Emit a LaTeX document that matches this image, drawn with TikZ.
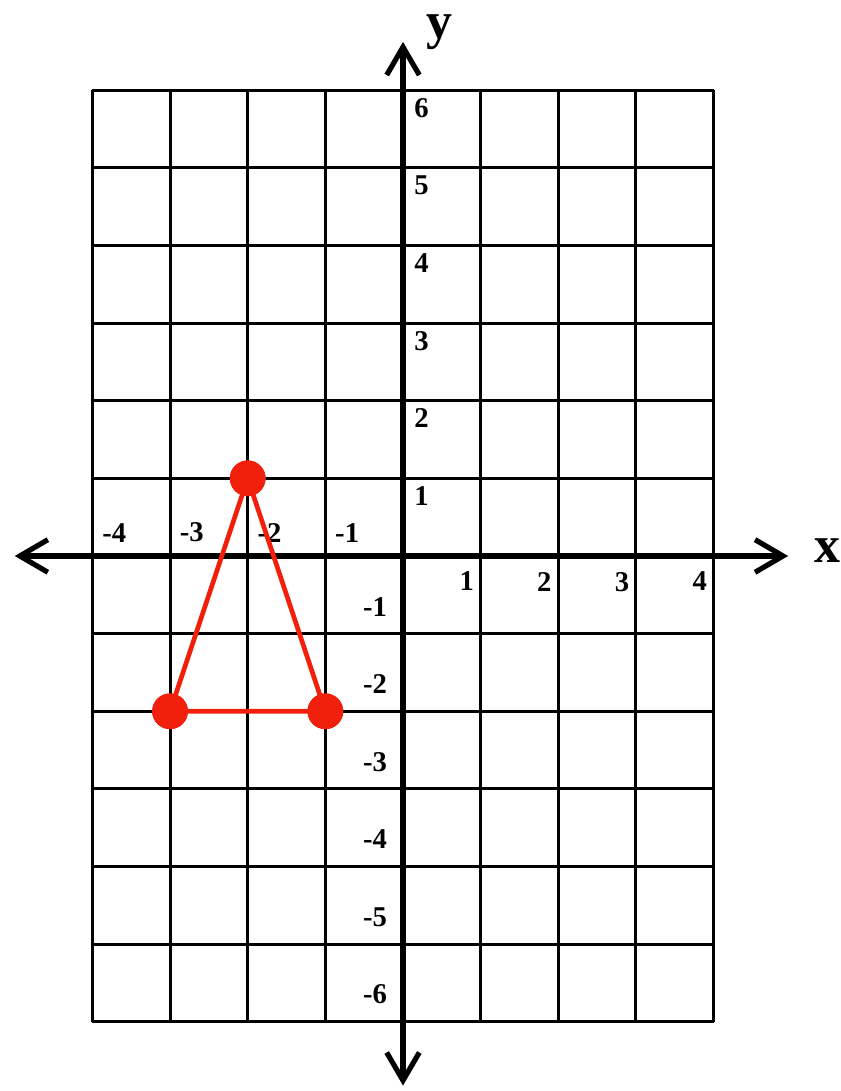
\documentclass[tikz,border=0pt]{standalone}
\usepackage{fontspec}
\setmainfont{Liberation Serif}
\usetikzlibrary{arrows.meta}
\definecolor{ptred}{RGB}{240,32,12}
\tikzset{
  gridline/.style={black, line width=1.1pt},
  axisline/.style={black, line width=1.9pt, {Straight Barb[length=3.6mm,width=4.2mm,line width=1.9pt]}-{Straight Barb[length=3.6mm,width=4.2mm,line width=1.9pt]}},
  ticklabel/.style={font=\bfseries\fontsize{10.5}{10.5}\selectfont, inner sep=0pt},
  axislabel/.style={font=\bfseries\fontsize{19}{19}\selectfont, inner sep=0pt, anchor=base},
  vertex/.style={circle, fill=ptred, minimum size=4.6mm, inner sep=0pt},
  side/.style={ptred, line width=1.7pt}
}
\begin{document}
\begin{tikzpicture}
    \useasboundingbox (-5.19,-6.89) rectangle (5.64,7.16);
    % grid
    \draw [gridline] (-4,-6) grid (4,6);

    % axes
    \coordinate (xl) at (-5.0,0);
    \coordinate (xr) at (4.96,0);
    \coordinate (yb) at (0,-6.82);
    \coordinate (yt) at (0,6.62);
    \draw [axisline] (xl) -- (xr);
    \draw [axisline] (yb) -- (yt);
    \node (xlab) [axislabel] at (5.47,-0.09) {x};
    \node (ylab) [axislabel] at (0.47,6.66) {y};

    % tick labels
    \foreach \x in {1,...,4} {
        \node (xn\x) [ticklabel, anchor=south west] at (-\x+0.12,0.17) {-\x};
        \node (xp\x) [ticklabel, anchor=north east] at (\x-0.08,-0.2) {\x};
    }
    \foreach \y in {1,...,6} {
        \node (yp\y) [ticklabel, anchor=north west] at (0.14,\y-0.1) {\y};
        \node (yn\y) [ticklabel, anchor=south east] at (-0.2,-\y+0.22) {-\y};
    }

    % triangle
    \node (A) [vertex] at (-2,1) {};
    \node (B) [vertex] at (-3,-2) {};
    \node (C) [vertex] at (-1,-2) {};
    \draw [side] (A.center) -- (B.center) -- (C.center) -- cycle;
    \node [vertex] at (A) {};
    \node [vertex] at (B) {};
    \node [vertex] at (C) {};
\end{tikzpicture}
\end{document}
